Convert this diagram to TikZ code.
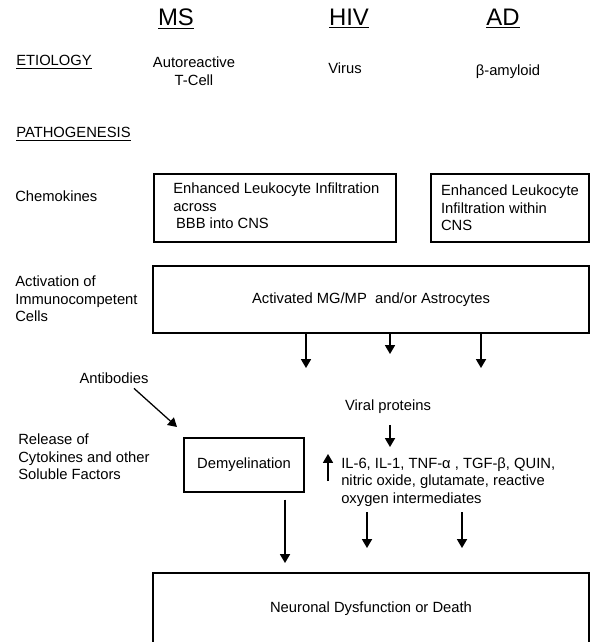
\documentclass[tikz,border=0pt]{standalone}
\usepackage{fontspec}
\setmainfont{Liberation Sans}
\usetikzlibrary{positioning, calc, arrows.meta}

\tikzset{
  every node/.style={font=\fontsize{10.5}{12.6}\selectfont},
  box/.style={draw, line width=1pt, rectangle, inner sep=0pt},
  lbl/.style={anchor=west, align=left, inner sep=0pt},
  head/.style={font=\fontsize{17}{20}\selectfont, inner sep=0pt},
  arr/.style={-{Triangle[length=2.2mm,width=2.5mm]}, line width=0.9pt},
}

\begin{document}
\begin{tikzpicture}[x=0.025cm, y=-0.025cm]
\clip (0,0) rectangle (592,642);
% column heads
\draw 	(176,19) node[head](ms){\underline{MS}}   (349,19) node[head](hiv){\underline{HIV}}
  		(503,19) node[head](ad){\underline{AD}};
\draw 	(16,62) node[lbl](etio){\underline{ETIOLOGY}}
		(194,71) node[align=center, inner sep=0pt](auto){Autoreactive\\T-Cell}
		(345,68) node[inner sep=0pt](virus){Virus}
		(508,72) node[inner sep=0pt](abeta){β-amyloid};
\draw 	(16,134) node[lbl](path){\underline{PATHOGENESIS}};

% chemokines
\node[lbl] (chem) at (15,196) {Chemokines};
\node[box, minimum width=6.05cm, minimum height=1.7cm] (c1) at (275,208) {};
\node[lbl] (c1t) at (173,206) {Enhanced Leukocyte Infiltration\\across\\\hspace{2pt}BBB into CNS};
\node[box, minimum width=3.95cm, minimum height=1.7cm, align=left] (c2) at (510,208)
	{Enhanced Leukocyte\\Infiltration within\\CNS};

% activation
\node[lbl] (actl) at (15,299) {Activation of\\Immunocompetent\\Cells};
\node[box, minimum width=10.9cm, minimum height=1.675cm] (act) at (371,299.5)
	{Activated MG/MP\ \ and/or Astrocytes};
\coordinate (a1) at (306,368);
\coordinate (a2) at (390,354);
\coordinate (a3) at (481,368);
\path[arr]
    (act.south -| a1) edge (a1)
    (act.south -| a2) edge (a2)
    (act.south -| a3) edge (a3);

% release of soluble factors
\node[lbl] (rel) at (18,457) {Release of\\Cytokines and other\\Soluble Factors};
\node (ab) at (114,378) {Antibodies};
\node[box, minimum width=3cm, minimum height=1.35cm] (dem) at (244,465) {Demyelination};
\coordinate (abtip) at (177,427);
\path[arr] ([xshift=0.5cm]ab.south) edge (abtip);

\node (vp) at (388,407) {Viral proteins};
\coordinate (vptip) at (390,447);
\path[arr, shorten <=1.5mm] (vp.south -| vptip) edge (vptip);

\coordinate (up1) at (328,481);
\coordinate (up2) at (328,454);
\path[arr] (up1) edge (up2);
\node[lbl] (il) at (341,482) {IL-6, IL-1, TNF-α , TGF-β, QUIN,\\nitric oxide, glutamate, reactive\\oxygen intermediates};

% outcome
\node[box, minimum width=10.9cm, minimum height=1.8cm] (nd) at (371,609) {Neuronal Dysfunction or Death};
\coordinate (d1) at (285,563);
\coordinate (d2) at (367,548);
\coordinate (d3) at (462,548);
\coordinate (i1) at (367,512);
\coordinate (i2) at (462,512);
\path[arr]
    (dem.south -| d1) ++(0,7) edge (d1)
    (i1) edge (d2)
    (i2) edge (d3);
%\draw (dem.south) -- (nd.north);
\end{tikzpicture}
\end{document}
